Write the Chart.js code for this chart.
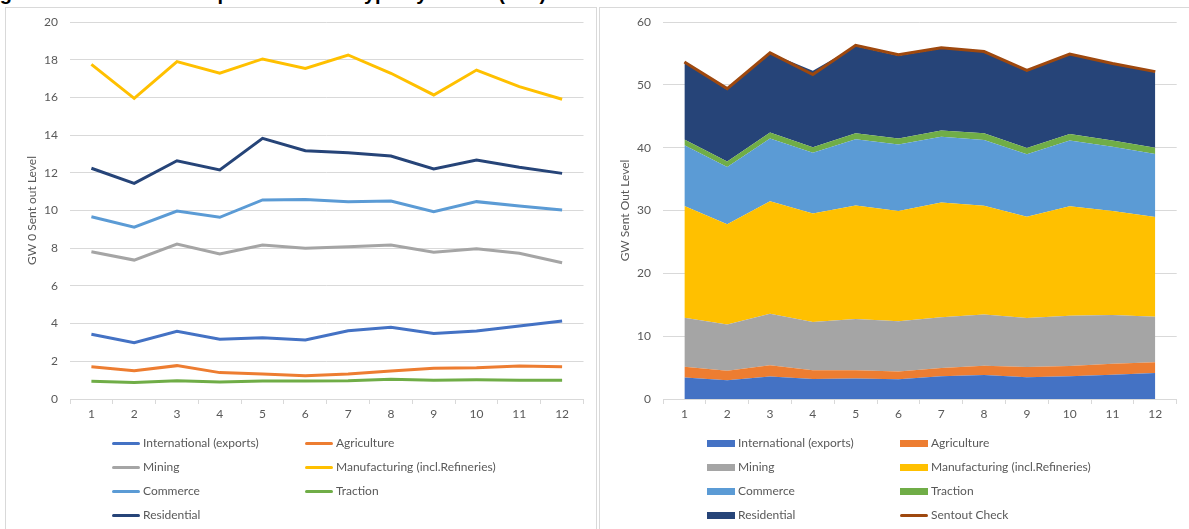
<!DOCTYPE html>
<html>
<head>
<meta charset="utf-8">
<script src="https://cdn.jsdelivr.net/npm/chart.js@4.4.0/dist/chart.umd.min.js"></script>
<style>
html,body{margin:0;padding:0;background:#fff;width:1189px;height:529px;overflow:hidden;font-family:Lato,"Liberation Sans",sans-serif;}
.panel{position:absolute;border:1px solid #d9d9d9;box-sizing:border-box;}
#leftPanel{left:5px;top:7px;width:592px;height:540px;}
#rightPanel{left:599px;top:7px;width:600px;height:540px;}
.wrap{position:absolute;top:0;height:529px;}
#leftWrap{left:0;width:597px;}
#rightWrap{left:597px;width:592px;}
#title{position:absolute;left:-18px;top:-18px;font:bold 20px "Liberation Sans",Arial,sans-serif;color:#000;white-space:nowrap;}
.legend{position:absolute;left:0;top:0;font-size:12px;color:#595959;}
.item{position:absolute;white-space:nowrap;line-height:14px;height:14px;}
.sample{position:absolute;}
</style>
</head>
<body>
<div id="title">Figure 5: Sent Out Level per Customer Type by Month (GW)</div>
<div class="panel" id="leftPanel"></div>
<div class="panel" id="rightPanel"></div>
<div class="wrap" id="leftWrap"><canvas id="lineChart" width="597" height="529"></canvas></div>
<div class="wrap" id="rightWrap"><canvas id="areaChart" width="592" height="529"></canvas></div>
<div class="legend" id="leftLegend"></div>
<div class="legend" id="rightLegend"></div>
<script>
// months
const months = ['1','2','3','4','5','6','7','8','9','10','11','12'];

// GW sent out per customer type
const international = [3.43, 2.99, 3.59, 3.17, 3.25, 3.13, 3.62, 3.80, 3.48, 3.61, 3.87, 4.14];
const agriculture   = [1.71, 1.50, 1.77, 1.40, 1.33, 1.24, 1.33, 1.49, 1.63, 1.66, 1.75, 1.71];
const mining        = [7.81, 7.37, 8.22, 7.69, 8.17, 8.00, 8.08, 8.17, 7.78, 7.97, 7.73, 7.23];
const manufacturing = [17.75, 15.95, 17.90, 17.28, 18.04, 17.54, 18.25, 17.28, 16.13, 17.45, 16.57, 15.90];
const commerce      = [9.67, 9.11, 9.97, 9.64, 10.56, 10.59, 10.47, 10.50, 9.94, 10.47, 10.24, 10.03];
const traction      = [0.94, 0.87, 0.97, 0.90, 0.96, 0.96, 0.97, 1.05, 0.99, 1.02, 1.00, 0.99];
const residential   = [12.24, 11.44, 12.64, 12.15, 13.83, 13.17, 13.07, 12.89, 12.20, 12.68, 12.29, 11.97];
const sentoutCheck  = [53.65, 49.40, 55.10, 51.65, 56.30, 54.80, 55.90, 55.30, 52.30, 54.90, 53.40, 52.10];

const seriesNames = ['International (exports)', 'Agriculture', 'Mining', 'Manufacturing (incl.Refineries)', 'Commerce', 'Traction', 'Residential'];
const seriesData = [international, agriculture, mining, manufacturing, commerce, traction, residential];
const seriesColors = ['#4472C4', '#ED7D31', '#A5A5A5', '#FFC000', '#5B9BD5', '#70AD47', '#264478'];
const checkColor = '#9E480E';

const textColor = '#595959';
const gridColor = '#d9d9d9';
Chart.defaults.font.family = 'Lato, "Liberation Sans", sans-serif';
Chart.defaults.font.size = 12;
Chart.defaults.color = textColor;

function scales(yMax, yStep, yTitle, axisW, titlePad, stacked) {
  return {
    x: {
      offset: true,
      stacked: stacked,
      grid: {offset: true, drawOnChartArea: false, drawTicks: true, tickLength: 5, color: gridColor},
      border: {color: gridColor},
      ticks: {padding: 3, maxRotation: 0, autoSkip: false},
      afterFit: s => { s.height = 30; }
    },
    y: {
      min: 0, max: yMax,
      stacked: stacked,
      grid: {color: gridColor, drawTicks: false},
      border: {display: false},
      ticks: {stepSize: yStep, padding: 12},
      title: {display: true, text: yTitle, color: textColor, font: {size: 12}, padding: {top: titlePad, bottom: 0}},
      afterFit: s => { s.width = axisW; }
    }
  };
}

// left: one line per customer type
const lineChart = new Chart(document.getElementById('lineChart'), {
  type: 'line',
  data: {
    labels: months,
    datasets: seriesNames.map((n, i) => ({
      label: n, data: seriesData[i], borderColor: seriesColors[i], backgroundColor: seriesColors[i],
      borderWidth: 3, pointRadius: 0, tension: 0, fill: false
    }))
  },
  options: {
    responsive: false, animation: false,
    layout: {padding: {left: 0, top: 22, right: 13.5, bottom: 100}},
    plugins: {legend: {display: false}, tooltip: {enabled: false}},
    scales: scales(20, 2, 'GW 0 Sent out Level', 70, 25, false)
  }
});

// right: stacked areas plus the total check line
const areaSets = seriesNames.map((n, i) => ({
  label: n, data: seriesData[i], borderColor: seriesColors[i], backgroundColor: seriesColors[i],
  borderWidth: 0, pointRadius: 0, tension: 0, fill: i === 0 ? 'origin' : '-1', stack: 'types'
}));
areaSets.push({
  label: 'Sentout Check', data: sentoutCheck, borderColor: checkColor, backgroundColor: checkColor,
  borderWidth: 3, pointRadius: 0, tension: 0, fill: false, stack: 'check', order: -1
});
const areaChart = new Chart(document.getElementById('areaChart'), {
  type: 'line',
  data: {labels: months, datasets: areaSets},
  options: {
    responsive: false, animation: false,
    layout: {padding: {left: 0, top: 22, right: 12.3, bottom: 100}},
    plugins: {legend: {display: false}, tooltip: {enabled: false}, filler: {drawTime: 'beforeDatasetsDraw'}},
    scales: scales(60, 10, 'GW Sent Out Level', 66, 21, true)
  }
});

// two-column legends under each chart
function buildLegend(chart, el, colX, rowY, swatch) {
  chart.data.datasets.forEach((ds, i) => {
    const col = i % 2, row = Math.floor(i / 2);
    const x = colX[col], y = rowY[row];
    const s = document.createElement('div');
    s.className = 'sample';
    const isLine = swatch === 'line' || ds.stack === 'check';
    s.style.left = x + 'px';
    s.style.width = '28px';
    s.style.height = isLine ? '3px' : '7px';
    s.style.top = (y - (isLine ? 1.5 : 3.5)) + 'px';
    s.style.background = ds.borderColor;
    if (isLine) s.style.borderRadius = '2px';
    el.appendChild(s);
    const t = document.createElement('div');
    t.className = 'item';
    t.style.left = (x + 31) + 'px';
    t.style.top = (y - 7) + 'px';
    t.textContent = ds.label;
    el.appendChild(t);
  });
}
buildLegend(lineChart, document.getElementById('leftLegend'), [112, 305], [443, 467, 491, 515], 'line');
buildLegend(areaChart, document.getElementById('rightLegend'), [707, 900], [443, 467, 491, 515], 'box');
</script>
</body>
</html>
